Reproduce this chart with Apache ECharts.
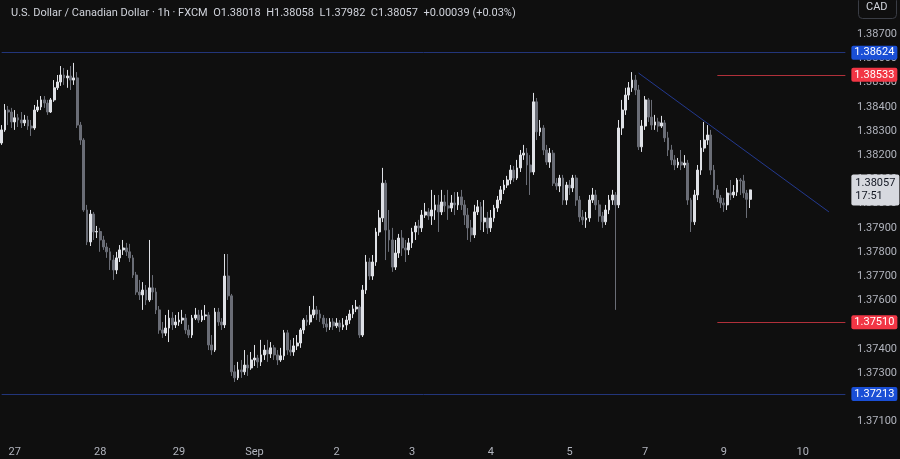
<!DOCTYPE html>
<html><head><meta charset="utf-8">
<script src="https://cdn.jsdelivr.net/npm/echarts@6/dist/echarts.min.js"></script>
<style>html,body{margin:0;padding:0;background:#0f0f0f;}#c{width:900px;height:459px;}</style>
</head><body><div id="c"></div>
<script>
// [open, close, low, high] per hourly candle
const candles = [
[1.38251,1.38305,1.38243,1.38325],[1.38305,1.38387,1.38297,1.38412],[1.38387,1.38379,1.38325,1.38404],[1.38379,1.38338,1.38313,1.38396],
[1.38338,1.38355,1.38305,1.38387],[1.38355,1.38346,1.38317,1.38371],[1.38346,1.38334,1.38313,1.38379],[1.38334,1.38346,1.38321,1.38367],
[1.38346,1.38321,1.38305,1.38363],[1.38321,1.38313,1.38280,1.38346],[1.38313,1.38387,1.38305,1.38408],[1.38387,1.38400,1.38379,1.38429],
[1.38400,1.38429,1.38387,1.38445],[1.38429,1.38416,1.38396,1.38445],[1.38416,1.38379,1.38367,1.38429],[1.38379,1.38429,1.38375,1.38437],
[1.38429,1.38479,1.38421,1.38511],[1.38479,1.38503,1.38470,1.38532],[1.38503,1.38532,1.38487,1.38569],[1.38532,1.38520,1.38491,1.38561],
[1.38520,1.38528,1.38479,1.38553],[1.38528,1.38511,1.38470,1.38569],[1.38511,1.38520,1.38491,1.38582],[1.38520,1.38325,1.38313,1.38544],
[1.38325,1.38263,1.38243,1.38338],[1.38263,1.37974,1.37966,1.38271],[1.37974,1.37842,1.37829,1.37995],[1.37842,1.37957,1.37825,1.37974],
[1.37957,1.37883,1.37850,1.37966],[1.37883,1.37885,1.37858,1.37908],[1.37885,1.37850,1.37801,1.37900],[1.37850,1.37821,1.37809,1.37867],
[1.37821,1.37801,1.37776,1.37838],[1.37801,1.37767,1.37726,1.37817],[1.37767,1.37726,1.37685,1.37788],[1.37726,1.37776,1.37709,1.37801],
[1.37776,1.37809,1.37759,1.37829],[1.37809,1.37817,1.37788,1.37850],[1.37817,1.37801,1.37784,1.37838],[1.37801,1.37776,1.37759,1.37834],
[1.37776,1.37705,1.37693,1.37788],[1.37705,1.37635,1.37623,1.37718],[1.37635,1.37623,1.37602,1.37685],[1.37623,1.37643,1.37561,1.37676],
[1.37643,1.37602,1.37581,1.37664],[1.37602,1.37652,1.37594,1.37850],[1.37652,1.37635,1.37602,1.37705],[1.37635,1.37561,1.37544,1.37652],
[1.37561,1.37478,1.37462,1.37577],[1.37478,1.37465,1.37445,1.37511],[1.37465,1.37486,1.37453,1.37540],[1.37486,1.37527,1.37428,1.37561],
[1.37527,1.37499,1.37478,1.37552],[1.37499,1.37511,1.37486,1.37540],[1.37511,1.37519,1.37495,1.37552],[1.37519,1.37527,1.37503,1.37561],
[1.37527,1.37478,1.37462,1.37544],[1.37478,1.37457,1.37445,1.37499],[1.37457,1.37527,1.37445,1.37540],[1.37527,1.37540,1.37519,1.37569],
[1.37540,1.37519,1.37507,1.37561],[1.37519,1.37536,1.37511,1.37561],[1.37536,1.37540,1.37519,1.37581],[1.37540,1.37416,1.37395,1.37552],
[1.37416,1.37395,1.37375,1.37457],[1.37395,1.37552,1.37387,1.37569],[1.37552,1.37511,1.37495,1.37569],[1.37511,1.37499,1.37478,1.37527],
[1.37499,1.37701,1.37486,1.37792],[1.37701,1.37619,1.37602,1.37792],[1.37619,1.37305,1.37288,1.37627],[1.37305,1.37280,1.37263,1.37333],
[1.37280,1.37313,1.37271,1.37346],[1.37313,1.37305,1.37280,1.37354],[1.37305,1.37333,1.37292,1.37395],[1.37333,1.37321,1.37288,1.37375],
[1.37321,1.37354,1.37313,1.37387],[1.37354,1.37362,1.37329,1.37416],[1.37362,1.37346,1.37321,1.37375],[1.37346,1.37375,1.37329,1.37437],
[1.37375,1.37395,1.37354,1.37416],[1.37395,1.37379,1.37346,1.37437],[1.37379,1.37404,1.37362,1.37428],[1.37404,1.37375,1.37354,1.37416],
[1.37375,1.37354,1.37333,1.37395],[1.37354,1.37371,1.37346,1.37404],[1.37371,1.37466,1.37354,1.37478],[1.37466,1.37395,1.37375,1.37478],
[1.37395,1.37387,1.37371,1.37437],[1.37387,1.37412,1.37371,1.37445],[1.37412,1.37424,1.37395,1.37457],[1.37424,1.37478,1.37404,1.37486],
[1.37478,1.37519,1.37462,1.37527],[1.37519,1.37511,1.37495,1.37540],[1.37511,1.37540,1.37499,1.37577],[1.37540,1.37561,1.37527,1.37619],
[1.37561,1.37544,1.37519,1.37577],[1.37544,1.37527,1.37511,1.37561],[1.37527,1.37503,1.37486,1.37540],[1.37503,1.37490,1.37470,1.37527],
[1.37490,1.37511,1.37478,1.37527],[1.37511,1.37495,1.37478,1.37527],[1.37495,1.37507,1.37486,1.37527],[1.37507,1.37490,1.37470,1.37519],
[1.37490,1.37499,1.37478,1.37527],[1.37499,1.37519,1.37478,1.37536],[1.37519,1.37544,1.37503,1.37561],[1.37544,1.37565,1.37527,1.37581],
[1.37565,1.37573,1.37552,1.37602],[1.37573,1.37457,1.37445,1.37581],[1.37457,1.37643,1.37449,1.37664],[1.37643,1.37759,1.37627,1.37788],
[1.37759,1.37701,1.37685,1.37776],[1.37701,1.37759,1.37685,1.37788],[1.37759,1.37883,1.37743,1.37900],[1.37883,1.37941,1.37867,1.37974],
[1.37941,1.38085,1.37924,1.38148],[1.38085,1.37891,1.37767,1.38098],[1.37891,1.37850,1.37801,1.37974],[1.37850,1.37738,1.37718,1.37900],
[1.37738,1.37796,1.37726,1.37850],[1.37796,1.37858,1.37776,1.37875],[1.37858,1.37817,1.37784,1.37891],[1.37817,1.37809,1.37759,1.37850],
[1.37809,1.37838,1.37788,1.37858],[1.37838,1.37883,1.37817,1.37900],[1.37883,1.37908,1.37850,1.37924],[1.37908,1.37900,1.37871,1.37933],
[1.37900,1.37953,1.37883,1.37974],[1.37953,1.37966,1.37941,1.38003],[1.37966,1.37949,1.37933,1.37982],[1.37949,1.37974,1.37912,1.38057],
[1.37974,1.37995,1.37933,1.38036],[1.37995,1.37966,1.37883,1.38036],[1.37966,1.38007,1.37953,1.38057],[1.38007,1.37991,1.37966,1.38036],
[1.37991,1.37982,1.37933,1.38057],[1.37982,1.38003,1.37966,1.38036],[1.38003,1.37995,1.37953,1.38048],[1.37995,1.38028,1.37974,1.38048],
[1.38028,1.37995,1.37974,1.38057],[1.37995,1.37953,1.37912,1.38015],[1.37953,1.37900,1.37850,1.37982],[1.37900,1.37871,1.37842,1.37933],
[1.37871,1.37966,1.37858,1.37995],[1.37966,1.37987,1.37953,1.38015],[1.37987,1.37925,1.37891,1.38007],[1.37925,1.37941,1.37883,1.38015],
[1.37941,1.37900,1.37875,1.37966],[1.37900,1.37941,1.37883,1.37974],[1.37941,1.37982,1.37925,1.37995],[1.37982,1.38015,1.37966,1.38032],
[1.38015,1.38057,1.37999,1.38073],[1.38057,1.38077,1.38040,1.38098],[1.38077,1.38098,1.38065,1.38115],[1.38098,1.38139,1.38081,1.38160],
[1.38139,1.38106,1.38090,1.38156],[1.38106,1.38148,1.38098,1.38181],[1.38148,1.38201,1.38131,1.38222],[1.38201,1.38209,1.38181,1.38243],
[1.38209,1.38160,1.38077,1.38230],[1.38160,1.38131,1.38036,1.38201],[1.38131,1.38421,1.38119,1.38458],[1.38421,1.38297,1.38263,1.38437],
[1.38297,1.38313,1.38280,1.38346],[1.38313,1.38222,1.38201,1.38325],[1.38222,1.38172,1.38160,1.38243],[1.38172,1.38209,1.38148,1.38230],
[1.38209,1.38085,1.38073,1.38222],[1.38085,1.38073,1.38057,1.38106],[1.38073,1.38106,1.38048,1.38119],[1.38106,1.38015,1.37995,1.38119],
[1.38015,1.38077,1.37995,1.38090],[1.38077,1.38065,1.38036,1.38098],[1.38065,1.38106,1.38048,1.38119],[1.38106,1.38015,1.37991,1.38119],
[1.38015,1.37945,1.37925,1.38032],[1.37945,1.37933,1.37912,1.37974],[1.37933,1.37941,1.37900,1.37966],[1.37941,1.38015,1.37925,1.38036],
[1.38015,1.38036,1.38003,1.38065],[1.38036,1.37995,1.37974,1.38057],[1.37995,1.37949,1.37925,1.38015],[1.37949,1.37925,1.37900,1.37966],
[1.37925,1.37974,1.37912,1.37995],[1.37974,1.38015,1.37957,1.38036],[1.38015,1.38036,1.37995,1.38057],[1.38036,1.37995,1.37561,1.38048],
[1.37995,1.38313,1.37982,1.38346],[1.38313,1.38387,1.38284,1.38429],[1.38387,1.38449,1.38367,1.38479],[1.38449,1.38479,1.38429,1.38503],
[1.38479,1.38511,1.38462,1.38544],[1.38511,1.38470,1.38449,1.38532],[1.38470,1.38235,1.38222,1.38491],[1.38235,1.38321,1.38214,1.38346],
[1.38321,1.38429,1.38305,1.38445],[1.38429,1.38358,1.38338,1.38437],[1.38358,1.38325,1.38305,1.38429],[1.38325,1.38338,1.38305,1.38367],
[1.38338,1.38321,1.38297,1.38355],[1.38321,1.38334,1.38313,1.38363],[1.38334,1.38272,1.38255,1.38346],[1.38272,1.38222,1.38197,1.38297],
[1.38222,1.38181,1.38160,1.38243],[1.38181,1.38160,1.38139,1.38201],[1.38160,1.38172,1.38148,1.38189],[1.38172,1.38160,1.38139,1.38222],
[1.38160,1.38168,1.38148,1.38201],[1.38168,1.38015,1.37995,1.38181],[1.38015,1.37925,1.37883,1.38024],[1.37925,1.38036,1.37912,1.38057],
[1.38036,1.38139,1.38015,1.38160],[1.38139,1.38230,1.38119,1.38263],[1.38230,1.38263,1.38214,1.38338],[1.38263,1.38284,1.38243,1.38325],
[1.38284,1.38139,1.38119,1.38305],[1.38139,1.38057,1.38036,1.38160],[1.38057,1.38024,1.38007,1.38077],[1.38024,1.38003,1.37982,1.38036],
[1.38003,1.37995,1.37966,1.38024],[1.37995,1.38044,1.37974,1.38065],[1.38044,1.38036,1.38015,1.38098],[1.38036,1.38048,1.38024,1.38077],
[1.38048,1.38098,1.38032,1.38106],[1.38098,1.38094,1.38036,1.38106],[1.38094,1.38044,1.38024,1.38119],[1.38044,1.38018,1.37941,1.38057],
[1.38018,1.38057,1.37982,1.38058]
];
const slotCount = 258;
const dayLabels = {4:'27',30:'28',54:'29',77:'Sep',102:'2',125:'3',149:'4',173:'5',196:'7',220:'9',244:'10'};
const hLevels = [1.38624, 1.37213];          // blue horizontal levels
const rLevels = [1.38533, 1.37510];          // red short levels
const rStart = 218;
const trend = [[194, 1.38540], [252, 1.37966]];
const lastPrice = 1.38057, countdown = '17:51';
const header = 'U.S. Dollar / Canadian Dollar · 1h · FXCM  O1.38018  H1.38058  L1.37982  C1.38057  +0.00039 (+0.03%)';

const cats = Array.from({length: slotCount}, (_, i) => String(i));
const last = String(slotCount - 1);
const chart = echarts.init(document.getElementById('c'));
const tag = (bg, fg, v) => ({show:true, position:'end', distance:6, backgroundColor:bg, color:fg, padding:[2,3,1,3], borderRadius:2, fontSize:11, fontFamily:'Roboto', formatter: () => v.toFixed(5)});
const mlData = [];
hLevels.forEach(v => {
  const ls = {color:'#22357a', width:1, type:'solid'};
  mlData.push([{coord:['0', v], lineStyle:ls, label:tag('#1a4fd6','#fff',v)}, {coord:[last, v], lineStyle:ls}]);
});
rLevels.forEach(v => {
  const ls = {color:'#b0303a', width:1, type:'solid', opacity:1};
  mlData.push([{coord:[String(rStart), v], lineStyle:ls, label:tag('#f23645','#fff',v)}, {coord:[last, v], lineStyle:ls}]);
});
const tls = {color:'#23398f', width:1, type:'solid'};
mlData.push([{coord:[String(trend[0][0]), trend[0][1]], lineStyle:tls, label:{show:false}}, {coord:[String(trend[1][0]), trend[1][1]], lineStyle:tls}]);
const hid = {color:'rgba(0,0,0,0)', width:1, type:'solid'};
mlData.push([{coord:['0', lastPrice], lineStyle:hid, label:{show:true, position:'end', distance:6, backgroundColor:'#d7d9df', color:'#131722', padding:[3,4,2,4], borderRadius:2, fontSize:11, lineHeight:13, fontFamily:'Roboto', formatter: () => lastPrice.toFixed(5) + '\n' + countdown}}, {coord:[last, lastPrice], lineStyle:hid}]);

chart.setOption({
  backgroundColor:'#0f0f0f',
  animation:false,
  title:{text:header, left:6, top:3, textStyle:{color:'#d1d4dc', fontSize:11, fontWeight:'normal', fontFamily:'Roboto'}},
  graphic:[{type:'rect', left:858, top:-4, shape:{width:38, height:22, r:4}, style:{fill:'#0f0f0f', stroke:'#3a3d45', lineWidth:1}},
           {type:'text', left:866, top:2, style:{text:'CAD', fill:'#d1d4dc', font:'11px Roboto'}}],
  grid:{left:0, right:52, top:0, bottom:13.4},
  xAxis:{type:'category', data:cats, boundaryGap:true,
    axisLine:{show:false}, axisTick:{show:false}, splitLine:{show:false},
    axisLabel:{color:'#b2b5be', fontSize:11, fontFamily:'Roboto', margin:1,
      interval:(i) => dayLabels[i] !== undefined, formatter:(v, i) => dayLabels[i] || ''}},
  yAxis:{type:'value', position:'right', min:1.370, max:1.38842, interval:0.001, scale:true,
    axisLine:{show:false}, axisTick:{show:false}, splitLine:{show:false},
    axisLabel:{color:'#b2b5be', fontSize:11, fontFamily:'Roboto', margin:10, showMaxLabel:false, showMinLabel:false,
      formatter:v => (Math.abs(v-1.370)<1e-6 || Math.abs(v-1.388)<1e-6) ? '' : v.toFixed(5)}},
  series:[{type:'candlestick', data:candles.map(c=>[c[0],c[1],c[2],c[3]]), barWidth:'70%',
    itemStyle:{color:'#dfe1e6', color0:'#6a6d76', borderColor:'#dfe1e6', borderColor0:'#6a6d76', borderWidth:1},
    markLine:{silent:true, symbol:'none', animation:false, data:mlData}}]
});
</script></body></html>
